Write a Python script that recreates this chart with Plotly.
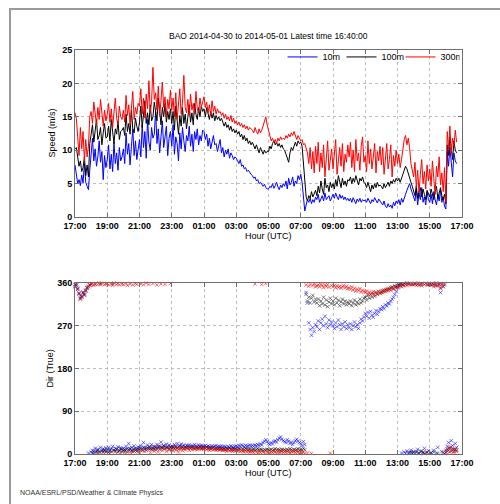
import plotly.graph_objects as go
import pandas as pd

START = "2014-04-30 17:00"
END = "2014-05-01 17:00"
TITLE = "BAO 2014-04-30 to 2014-05-01 Latest time 16:40:00"
FOOTER = "NOAA/ESRL/PSD/Weather & Climate Physics"
series_names = ["10m", "100m", "300m"]
x_tick_labels = ["17:00", "19:00", "21:00", "23:00", "01:00", "03:00", "05:00",
                 "07:00", "09:00", "11:00", "13:00", "15:00", "17:00"]
speed_ticks = [0, 5, 10, 15, 20, 25]
dir_ticks = [0, 90, 180, 270, 360]

# wind speed (m/s), 5-minute samples from 17:00 UTC
speed_10m = [
    7.8, 6.2, 5.0, 5.6, 4.7, 6.3, 5.1, 8.0, 5.2, 4.6, 4.1, 7.0,
    9.6, 11.8, 8.4, 10.2, 7.6, 9.0, 11.4, 8.2, 9.8, 5.6, 9.2, 7.4,
    8.6, 10.8, 7.2, 9.4, 6.8, 11.2, 8.0, 9.6, 7.0, 10.4, 8.4, 9.0,
    10.2, 8.0, 12.6, 9.4, 11.0, 7.8, 10.6, 13.2, 9.2, 11.4, 8.6, 10.4,
    11.6, 9.0, 13.8, 10.4, 12.8, 8.8, 14.6, 11.2, 10.0, 13.4, 11.8, 12.4,
    15.8, 11.0, 13.2, 9.6, 12.6, 14.4, 10.4, 12.0, 13.6, 9.2, 11.8, 12.8,
    10.6, 13.8, 9.4, 12.0, 11.0, 8.4, 12.6, 10.2, 13.4, 11.4, 9.8, 12.2,
    11.4, 13.6, 10.6, 12.4, 9.8, 12.8, 11.6, 13.2, 10.8, 12.2, 11.4, 13.0,
    12.8, 11.6, 12.4, 10.6, 11.8, 10.2, 11.4, 12.2, 10.8, 11.0, 9.8, 10.6,
    11.6, 9.6, 10.4, 9.0, 10.0, 9.4, 10.2, 8.8, 9.6, 9.2, 8.6, 9.0,
    8.8, 8.4, 8.0, 8.6, 7.6, 7.8, 7.2, 7.4, 6.8, 7.0, 6.6, 6.4,
    6.2, 5.8, 6.0, 5.4, 5.6, 5.0, 5.2, 4.8, 4.6, 4.9, 4.4, 4.2,
    4.2, 4.6, 4.4, 5.0, 4.3, 4.7, 5.2, 4.5, 4.1, 4.8, 4.4, 5.0,
    4.6, 5.4, 4.2, 5.8, 4.8, 5.2, 6.0, 4.6, 5.4, 5.0, 6.2, 5.6,
    6.4, 5.2, 3.0, 0.9, 1.8, 2.6, 2.2, 2.8, 2.0, 2.6, 2.2, 3.0,
    2.6, 3.4, 2.2, 2.8, 3.2, 2.4, 3.6, 2.6, 2.9, 3.2, 2.4, 3.0,
    3.4, 2.8, 3.6, 3.0, 2.6, 3.4, 2.8, 3.2, 2.6, 3.0, 2.5, 2.8,
    2.4, 2.8, 2.2, 2.9, 2.5, 2.0, 2.7, 2.3, 2.8, 2.2, 2.6, 2.4,
    2.6, 2.2, 2.8, 2.4, 2.0, 2.6, 2.3, 2.9, 2.5, 2.1, 2.7, 2.4,
    2.2, 1.8, 2.4, 1.6, 1.4, 2.0, 1.5, 1.8, 1.3, 2.2, 1.7, 2.4,
    2.0, 2.6, 1.8, 2.8, 2.2, 3.0, 3.4, 4.0, 4.6, 5.0, 4.2, 3.6,
    3.2, 2.4, 4.2, 1.8, 3.6, 2.6, 4.4, 2.2, 3.0, 1.8, 3.8, 2.6,
    2.2, 3.4, 2.0, 3.8, 2.6, 1.8, 3.2, 2.4, 4.0, 2.2, 3.0, 1.6,
    1.2, 9.8, 7.6, 10.4, 8.2, 6.0, 9.6, 8.4, 8.0,
]
speed_100m = [
    10.2, 10.4, 9.0, 7.6, 8.4, 6.8, 7.4, 9.0, 6.2, 7.8, 6.0, 11.0,
    12.4, 13.8, 11.2, 12.8, 14.6, 11.6, 12.2, 13.4, 10.8, 12.6, 14.0, 11.8,
    12.0, 13.6, 11.4, 14.6, 12.2, 11.0, 13.2, 12.4, 14.4, 11.6, 12.8, 13.0,
    13.4, 12.2, 15.4, 12.8, 14.0, 12.4, 16.0, 13.2, 12.6, 14.8, 13.6, 12.8,
    14.2, 16.6, 13.4, 15.2, 17.4, 14.0, 15.6, 13.8, 16.8, 14.4, 15.0, 17.2,
    16.0, 14.4, 17.8, 15.2, 13.8, 16.4, 15.0, 17.0, 14.2, 15.8, 14.6, 16.2,
    14.0, 15.8, 13.0, 16.6, 14.4, 12.4, 15.2, 13.6, 16.4, 14.0, 15.4, 13.2,
    15.0, 16.8, 14.2, 15.6, 13.8, 17.0, 15.4, 14.6, 16.4, 15.0, 16.6, 15.8,
    16.2, 15.0, 16.4, 15.4, 14.6, 15.8, 14.8, 15.6, 14.4, 15.2, 14.6, 15.0,
    14.4, 14.8, 14.0, 13.6, 14.2, 13.4, 13.8, 13.0, 13.6, 12.8, 13.2, 12.6,
    13.0, 12.4, 12.8, 12.0, 12.4, 11.6, 12.2, 11.4, 11.8, 11.0, 11.4, 10.8,
    11.2, 10.6, 10.2, 10.8, 10.0, 9.6, 10.4, 9.8, 9.4, 10.0, 9.6, 9.8,
    9.8, 10.6, 10.2, 11.0, 11.4, 10.8, 11.2, 10.6, 11.0, 10.4, 10.8, 10.2,
    10.0, 9.4, 8.6, 8.2, 9.6, 10.4, 10.0, 10.8, 11.2, 10.6, 11.4, 11.0,
    11.2, 10.6, 8.0, 5.0, 3.0, 2.4, 3.2, 2.8, 3.8, 3.0, 3.6, 4.0,
    3.2, 4.6, 3.6, 5.4, 4.2, 3.4, 5.8, 4.4, 4.8, 3.8, 5.2, 4.4,
    5.0, 4.2, 5.6, 4.6, 6.2, 5.0, 4.4, 5.8, 4.8, 5.4, 4.6, 5.6,
    5.4, 6.0, 5.0, 5.8, 5.2, 6.2, 5.6, 4.8, 5.8, 5.4, 6.0, 5.2,
    5.0, 4.4, 5.2, 4.6, 3.8, 4.8, 4.2, 5.0, 4.4, 5.2, 4.6, 4.8,
    4.6, 4.2, 5.0, 4.4, 4.8, 5.2, 4.6, 5.4, 5.0, 5.6, 5.2, 5.8,
    5.4, 5.8, 5.2, 6.0, 6.4, 7.0, 7.6, 7.2, 6.4, 6.0, 5.2, 4.6,
    4.0, 3.2, 4.6, 2.8, 3.8, 4.4, 3.0, 4.2, 3.4, 2.6, 4.0, 3.6,
    3.0, 4.2, 3.4, 2.6, 3.8, 4.6, 2.8, 3.6, 4.4, 3.2, 2.6, 3.4,
    2.0, 10.8, 9.2, 12.0, 10.4, 8.6, 11.4, 10.0, 9.6,
]
speed_300m = [
    15.6, 14.8, 12.0, 9.2, 13.4, 10.2, 12.8, 8.4, 11.6, 9.0, 10.6, 15.0,
    15.8, 14.0, 17.2, 15.0, 13.8, 16.4, 14.6, 17.6, 15.2, 13.6, 16.0, 14.4,
    15.4, 17.0, 14.2, 16.2, 13.4, 15.6, 17.8, 14.8, 13.8, 16.6, 15.0, 14.6,
    16.0, 14.2, 18.2, 15.2, 16.8, 13.8, 15.8, 18.8, 14.6, 16.4, 15.4, 17.0,
    16.6, 19.2, 15.4, 17.8, 14.8, 18.4, 16.2, 20.4, 15.6, 17.2, 22.4, 17.6,
    18.6, 16.0, 19.6, 15.2, 17.4, 20.2, 16.4, 18.0, 15.0, 17.6, 16.2, 19.0,
    16.0, 17.8, 15.0, 18.6, 14.6, 16.8, 19.2, 15.4, 17.2, 21.2, 16.4, 15.6,
    17.6, 15.2, 18.4, 16.0, 17.0, 15.4, 18.8, 16.2, 15.6, 17.8, 16.4, 17.2,
    18.0, 16.4, 17.2, 15.6, 16.8, 15.2, 17.4, 15.8, 16.6, 15.4, 16.2, 15.6,
    15.8, 15.2, 15.6, 14.8, 15.4, 14.6, 15.0, 14.4, 15.2, 14.2, 14.8, 14.0,
    14.4, 13.8, 14.2, 13.6, 14.0, 13.4, 13.8, 13.2, 13.6, 13.0, 13.4, 13.2,
    13.0, 12.6, 13.4, 12.8, 12.4, 13.2, 12.6, 13.0, 13.6, 14.2, 15.0, 13.8,
    13.0, 12.0, 11.4, 11.8, 11.2, 11.6, 11.0, 11.8, 11.4, 12.0, 11.6, 11.8,
    11.6, 12.2, 11.8, 12.4, 12.0, 12.6, 12.2, 12.8, 12.0, 11.6, 12.2, 11.8,
    11.4, 11.6, 10.8, 11.0, 10.2, 9.6, 8.0, 10.4, 7.2, 9.8, 6.6, 10.6,
    8.0, 11.2, 6.8, 9.6, 7.4, 10.8, 6.0, 9.2, 11.4, 7.0, 8.8, 10.2,
    7.2, 9.8, 11.6, 6.4, 8.6, 10.4, 7.6, 11.0, 6.8, 9.4, 8.2, 10.8,
    9.0, 11.2, 7.4, 10.0, 6.8, 11.6, 8.4, 9.6, 7.0, 10.6, 12.0, 8.2,
    9.2, 6.8, 11.4, 8.0, 10.2, 7.2, 9.0, 11.0, 6.6, 9.8, 8.4, 10.6,
    7.8, 10.4, 6.4, 9.6, 11.0, 7.2, 8.6, 10.8, 6.0, 9.2, 7.6, 10.0,
    8.0, 9.4, 7.4, 8.6, 10.6, 11.6, 12.2, 10.8, 11.8, 10.4, 8.0, 7.0,
    6.0, 8.2, 4.4, 7.0, 3.6, 6.4, 8.6, 5.0, 6.8, 4.2, 7.8, 5.4,
    7.2, 4.6, 8.4, 5.8, 3.4, 7.6, 6.0, 9.0, 4.8, 6.6, 3.8, 7.4,
    2.2, 12.8, 10.2, 13.6, 9.4, 11.8, 10.6, 13.0, 11.2,
]

# wind direction (degrees true), 5-minute samples from 17:00 UTC
dir_10m = [
    356, 358, 349, 339, 329, 333, 341, 337, 345, 351, 2, 356,
    4, 8, 2, 12, 6, 10, 5, 14, 8, 11, 7, 13,
    9, 14, 6, 11, 16, 8, 12, 10, 15, 7, 13, 10,
    12, 9, 16, 11, 22, 10, 14, 8, 17, 12, 10, 15,
    13, 18, 11, 24, 14, 12, 19, 15, 11, 20, 14, 16,
    15, 20, 13, 17, 25, 14, 18, 16, 21, 13, 19, 15,
    17, 14, 20, 16, 22, 15, 18, 21, 16, 19, 14, 18,
    17, 19, 15, 18, 16, 20, 17, 15, 19, 16, 18, 17,
    16, 18, 15, 17, 16, 14, 17, 15, 16, 18, 15, 16,
    15, 17, 14, 16, 15, 13, 16, 14, 17, 15, 14, 16,
    17, 15, 18, 16, 19, 17, 15, 18, 16, 17, 19, 16,
    18, 16, 19, 17, 20, 18, 21, 19, 24, 27, 30, 26,
    22, 20, 24, 21, 26, 28, 25, 30, 33, 36, 31, 28,
    26, 24, 30, 27, 22, 25, 20, 24, 28, 31, 27, 24,
    22, 18, 26, 20, 340, 318, 276, 262, 250, 266, 258, 272,
    268, 280, 262, 276, 284, 270, 290, 274, 266, 282, 272, 278,
    270, 264, 276, 268, 282, 272, 262, 274, 268, 278, 264, 272,
    266, 274, 262, 270, 278, 268, 272, 264, 276, 284, 280, 288,
    296, 290, 298, 286, 300, 292, 288, 296, 302, 294, 300, 306,
    304, 310, 306, 314, 312, 318, 316, 322, 326, 330, 336, 342,
    350, 355, 358, 2, 357, 4, 1, 6, 359, 3, 8, 2,
    5, 358, 3, 10, 1, 356, 6, 2, 12, 359, 4, 7,
    357, 3, 359, 8, 355, 2, 14, 358, 340, 5, 352, 1,
    8, 16, 24, 12, 28, 18, 10, 22, 14,
]
dir_100m = [
    353, 355, 347, 337, 327, 331, 339, 335, 343, 349, 352, 355,
    358, 2, 6, 357, 4, 8, 3, 359, 6, 5, 9, 4,
    7, 3, 9, 5, 358, 8, 6, 10, 4, 7, 11, 5,
    8, 6, 10, 4, 9, 12, 7, 5, 11, 8, 6, 10,
    9, 12, 7, 14, 10, 8, 13, 11, 15, 9, 12, 10,
    13, 11, 16, 10, 14, 12, 17, 11, 13, 15, 10, 14,
    12, 15, 11, 14, 13, 10, 16, 12, 14, 11, 15, 13,
    13, 14, 12, 15, 13, 11, 14, 12, 13, 15, 12, 14,
    13, 12, 14, 12, 13, 11, 12, 13, 11, 12, 10, 12,
    11, 12, 10, 11, 9, 11, 10, 12, 10, 9, 11, 10,
    10, 9, 11, 10, 8, 10, 9, 11, 10, 9, 10, 8,
    9, 10, 8, 9, 11, 8, 10, 9, 7, 9, 8, 10,
    9, 8, 10, 7, 9, 11, 8, 10, 9, 7, 10, 8,
    9, 7, 10, 8, 11, 9, 7, 10, 8, 9, 11, 8,
    10, 8, 12, 9, 336, 322, 330, 318, 328, 334, 320, 326,
    318, 326, 312, 322, 316, 330, 314, 324, 310, 320, 328, 316,
    322, 314, 328, 318, 324, 312, 320, 326, 316, 322, 314, 320,
    316, 322, 312, 318, 324, 314, 320, 316, 326, 318, 322, 328,
    330, 324, 334, 328, 336, 330, 338, 332, 340, 336, 342, 338,
    340, 344, 342, 346, 344, 348, 346, 350, 352, 348, 354, 352,
    355, 357, 354, 358, 356, 359, 357, 360, 2, 358, 4, 357,
    3, 359, 5, 357, 2, 6, 358, 4, 1, 359, 3, 356,
    358, 2, 356, 4, 359, 354, 1, 357, 350, 358, 3, 356,
    4, 10, 7, 14, 6, 11, 5, 9, 8,
]
dir_300m = [
    352, 356, 346, 336, 326, 330, 340, 334, 344, 350, 353, 356,
    357, 359, 355, 358, 2, 357, 360, 356, 359, 3, 357, 358,
    359, 356, 1, 358, 355, 360, 4, 357, 359, 356, 2, 358,
    357, 3, 359, 355, 5, 358, 1, 356, 6, 359, 357, 4,
    2, 358, 8, 356, 5, 360, 10, 357, 3, 12, 359, 6,
    9, 356, 4, 14, 358, 7, 11, 357, 5, 13, 8, 359,
    10, 6, 15, 8, 12, 4, 11, 14, 7, 12, 9, 13,
    11, 8, 13, 9, 12, 10, 14, 9, 11, 13, 10, 12,
    10, 12, 9, 11, 8, 10, 12, 9, 10, 8, 11, 9,
    8, 10, 7, 9, 8, 6, 9, 7, 8, 6, 8, 7,
    7, 6, 8, 5, 7, 6, 4, 7, 5, 6, 4, 5,
    5, 3, 358, 4, 2, 5, 3, 357, 4, 2, 359, 3,
    4, 2, 5, 3, 6, 4, 2, 5, 3, 4, 6, 3,
    5, 3, 6, 4, 2, 5, 4, 6, 3, 5, 4, 2,
    3, 2, 4, 1, 356, 2, 353, 357, 1, 355, 358, 352,
    354, 356, 352, 357, 355, 350, 356, 353, 357, 351, 2, 355,
    352, 355, 350, 354, 351, 353, 349, 352, 355, 350, 353, 348,
    350, 347, 352, 345, 349, 343, 347, 344, 348, 341, 345, 342,
    340, 343, 337, 341, 336, 339, 342, 335, 340, 337, 342, 339,
    343, 340, 345, 342, 347, 344, 348, 345, 350, 347, 352, 349,
    353, 351, 355, 352, 356, 354, 358, 355, 357, 359, 356, 358,
    357, 359, 355, 360, 356, 358, 354, 359, 357, 2, 356, 358,
    358, 355, 359, 352, 357, 360, 354, 356, 348, 357, 353, 359,
    2, 6, 12, 4, 15, 8, 3, 10, 5,
]

line_colors = ["rgb(0,0,255)", "rgb(0,0,0)", "rgb(255,0,0)"]
mark_colors = ["rgba(0,0,255,0.55)", "rgba(0,0,0,0.5)", "rgba(255,0,0,0.55)"]

def times(n):
    return pd.date_range(START, periods=n, freq="5min")

fig = go.Figure()
for name, vals, col in zip(series_names, [speed_10m, speed_100m, speed_300m], line_colors):
    fig.add_trace(go.Scatter(x=times(len(vals)), y=vals, mode="lines", name=name,
                             line=dict(color=col, width=1), xaxis="x", yaxis="y"))
for name, vals, col in zip(series_names, [dir_10m, dir_100m, dir_300m], mark_colors):
    fig.add_trace(go.Scatter(x=times(len(vals)), y=vals, mode="markers", name=name,
                             showlegend=False, cliponaxis=False,
                             marker=dict(symbol="x-thin", size=3.5, line=dict(color=col, width=1)),
                             xaxis="x2", yaxis="y2"))

FONT = "Liberation Sans, Arial, sans-serif"
AX = "#6e6e6e"
tickvals = pd.date_range(START, END, freq="2h")

xcommon = dict(type="date", range=[START, END], tickvals=tickvals, ticktext=x_tick_labels,
               showline=True, linecolor=AX, linewidth=1, mirror="ticks",
               ticks="inside", ticklen=4, tickcolor=AX, automargin=False,
               showgrid=True, gridcolor="#bdbdbd", griddash="dot", gridwidth=1,
               zeroline=False,
               tickfont=dict(family=FONT, size=9, color="#000", weight="bold"))
ycommon = dict(showline=True, linecolor=AX, linewidth=1, mirror="ticks",
               ticks="inside", ticklen=4, tickcolor=AX, automargin=False,
               showgrid=True, gridcolor="#bdbdbd", griddash="dot", gridwidth=1,
               zeroline=False,
               tickfont=dict(family=FONT, size=9, color="#000", weight="bold"))

fig.update_layout(
    width=500, height=504, autosize=False,
    margin=dict(l=0, r=0, t=0, b=0, pad=0),
    paper_bgcolor="white", plot_bgcolor="white",
    font=dict(family=FONT, size=9, color="#000"),
    xaxis=dict(domain=[0.15, 0.924], anchor="y", **xcommon),
    yaxis=dict(domain=[0.5694, 0.9008], anchor="x", range=[0, 25], tickvals=speed_ticks, **ycommon),
    xaxis2=dict(domain=[0.15, 0.924], anchor="y2", **xcommon),
    yaxis2=dict(domain=[0.0992, 0.4385], anchor="x2", range=[0, 360], tickvals=dir_ticks, **ycommon),
    legend=dict(orientation="h", x=0.565, y=0.887, xanchor="left", yanchor="middle",
                bgcolor="rgba(0,0,0,0)", font=dict(family=FONT, size=9),
                itemwidth=30, entrywidth=14, tracegroupgap=0),
    showlegend=True,
)

def label(text, x, y, size=9, color="#000", angle=0, xanchor="center"):
    fig.add_annotation(text=text, xref="paper", yref="paper", x=x / 500, y=1 - y / 504,
                       showarrow=False, textangle=angle, xanchor=xanchor, yanchor="middle",
                       font=dict(family=FONT, size=size, color=color))

label(TITLE, 268.5, 36, size=8.5)
label("Hour (UTC)", 268.5, 236)
label("Hour (UTC)", 268.5, 473)
label("Speed (m/s)", 52, 133.5, angle=-90)
label("Dir (True)", 49, 368.5, angle=-90)
label(FOOTER, 18, 493, size=7, color="#333", xanchor="left")

# outer figure frame (left and top edges visible)
fig.add_shape(type="path", xref="paper", yref="paper",
              path="M 0.02 0 L 0.02 0.982 L 1 0.982",
              line=dict(color="#9a9a9a", width=2))

fig.write_html("out.html", config={"displayModeBar": False},
               post_script="document.body.style.margin='0';document.body.style.overflow='hidden';")
